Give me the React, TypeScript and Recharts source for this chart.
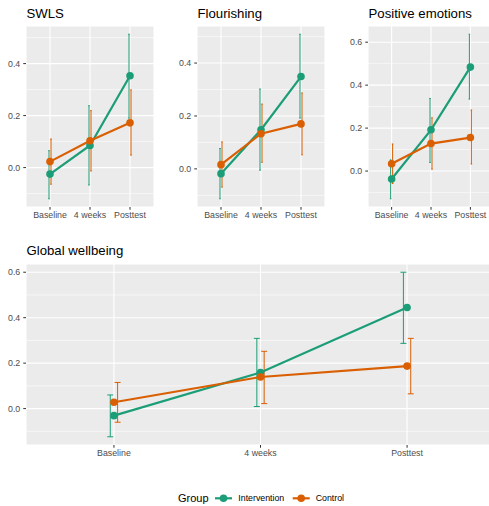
import React from "react"
import {
  ComposedChart,
  Line,
  Scatter,
  ErrorBar,
  XAxis,
  YAxis,
  CartesianGrid,
} from "recharts"

const timepoints = ["Baseline", "4 weeks", "Posttest"]

// SWLS
const swlsIntervention = [-0.025, 0.085, 0.353]
const swlsInterventionLow = [-0.12, -0.067, 0.19]
const swlsInterventionHigh = [0.065, 0.238, 0.513]
const swlsControl = [0.023, 0.103, 0.172]
const swlsControlLow = [-0.064, -0.013, 0.048]
const swlsControlHigh = [0.11, 0.219, 0.299]

// Flourishing
const flourIntervention = [-0.018, 0.148, 0.349]
const flourInterventionLow = [-0.113, -0.005, 0.192]
const flourInterventionHigh = [0.077, 0.302, 0.509]
const flourControl = [0.016, 0.133, 0.17]
const flourControlLow = [-0.069, 0.025, 0.053]
const flourControlHigh = [0.102, 0.245, 0.287]

// Positive emotions
const posIntervention = [-0.037, 0.192, 0.484]
const posInterventionLow = [-0.129, 0.04, 0.335]
const posInterventionHigh = [0.052, 0.338, 0.637]
const posControl = [0.034, 0.128, 0.156]
const posControlLow = [-0.058, 0.009, 0.033]
const posControlHigh = [0.126, 0.248, 0.284]

// Global wellbeing
const globalIntervention = [-0.031, 0.159, 0.445]
const globalInterventionLow = [-0.124, 0.009, 0.287]
const globalInterventionHigh = [0.06, 0.309, 0.6]
const globalControl = [0.028, 0.139, 0.187]
const globalControlLow = [-0.06, 0.022, 0.065]
const globalControlHigh = [0.115, 0.252, 0.309]

const ticksSmall = [0, 0.2, 0.4]
const ticksLarge = [0, 0.2, 0.4, 0.6]
const minorTicks = [-0.1, 0.1, 0.3, 0.5]

const GREEN = "#1B9E77"
const ORANGE = "#D95F02"
const FONT = "'Liberation Sans', Arial, sans-serif"
const DODGE = 0.025

type Row = { x: number; y: number; err: [number, number] }

function toRows(means: number[], low: number[], high: number[], shift = 0): Row[] {
  return means.map((y, i) => ({ x: i + 1 + shift, y, err: [y - low[i], high[i] - y] }))
}

type PanelProps = {
  title: string
  left: number
  top: number
  width: number
  height: number
  titleTop: number
  intervention: number[]
  interventionLow: number[]
  interventionHigh: number[]
  control: number[]
  controlLow: number[]
  controlHigh: number[]
  ticks: number[]
  cap: number
}

function Panel(p: PanelProps) {
  const lows = [...p.interventionLow, ...p.controlLow]
  const highs = [...p.interventionHigh, ...p.controlHigh]
  const lo = Math.min(...lows)
  const hi = Math.max(...highs)
  const pad = (hi - lo) * 0.05
  const domain = [lo - pad, hi + pad]

  const axisTick = { fill: "#4D4D4D", fontSize: 8.8, fontFamily: FONT }

  return (
    <>
      <div
        style={{
          position: "absolute",
          left: p.left + 26.5,
          top: p.titleTop,
          fontSize: 13.2,
          lineHeight: 1,
          color: "#000",
          whiteSpace: "nowrap",
        }}
      >
        {p.title}
      </div>
      <div style={{ position: "absolute", left: p.left, top: p.top }}>
        <ComposedChart
          width={p.width}
          height={p.height}
          margin={{ top: 0, right: 0, bottom: 0, left: 0 }}
        >
          <CartesianGrid
            horizontalValues={minorTicks}
            vertical={false}
            stroke="#FFFFFF"
            strokeWidth={0.55}
            fill="#EBEBEB"
            fillOpacity={1}
          />
          <CartesianGrid stroke="#FFFFFF" strokeWidth={1.1} />
          <XAxis
            dataKey="x"
            type="number"
            domain={[0.4, 3.6]}
            ticks={[1, 2, 3]}
            interval={0}
            allowDataOverflow
            tickFormatter={(v) => timepoints[Math.round(v) - 1]}
            axisLine={false}
            tickSize={2.75}
            tickMargin={2.2}
            tickLine={{ stroke: "#333333" }}
            tick={axisTick}
            height={23}
          />
          <YAxis
            type="number"
            domain={domain}
            ticks={p.ticks}
            interval={0}
            allowDataOverflow
            tickFormatter={(v) => Number(v).toFixed(1)}
            axisLine={false}
            tickSize={2.75}
            tickMargin={3}
            tickLine={{ stroke: "#333333" }}
            tick={axisTick}
            width={26}
          />
          <Scatter
            data={toRows(p.intervention, p.interventionLow, p.interventionHigh, -DODGE)}
            dataKey="y"
            shape={() => <g />}
            isAnimationActive={false}
          >
            <ErrorBar dataKey="err" direction="y" width={p.cap} stroke={GREEN} strokeWidth={1} isAnimationActive={false} />
          </Scatter>
          <Scatter
            data={toRows(p.control, p.controlLow, p.controlHigh, DODGE)}
            dataKey="y"
            shape={() => <g />}
            isAnimationActive={false}
          >
            <ErrorBar dataKey="err" direction="y" width={p.cap} stroke={ORANGE} strokeWidth={1} isAnimationActive={false} />
          </Scatter>
          <Line
            data={toRows(p.intervention, p.interventionLow, p.interventionHigh)}
            dataKey="y"
            stroke={GREEN}
            strokeWidth={2.2}
            dot={{ r: 3.8, fill: GREEN, stroke: GREEN, strokeWidth: 0 }}
            activeDot={false}
            isAnimationActive={false}
          />
          <Line
            data={toRows(p.control, p.controlLow, p.controlHigh)}
            dataKey="y"
            stroke={ORANGE}
            strokeWidth={2.2}
            dot={{ r: 3.8, fill: ORANGE, stroke: ORANGE, strokeWidth: 0 }}
            activeDot={false}
            isAnimationActive={false}
          />
        </ComposedChart>
      </div>
    </>
  )
}

export default function App() {
  return (
    <div
      style={{
        position: "absolute",
        left: 0,
        top: 0,
        width: 489,
        height: 506,
        overflow: "hidden",
        background: "#FFFFFF",
        fontFamily: FONT,
      }}
    >
      <Panel
        title="SWLS"
        left={0}
        top={26}
        width={154}
        height={204}
        titleTop={7.3}
        intervention={swlsIntervention}
        interventionLow={swlsInterventionLow}
        interventionHigh={swlsInterventionHigh}
        control={swlsControl}
        controlLow={swlsControlLow}
        controlHigh={swlsControlHigh}
        ticks={ticksSmall}
        cap={0.8}
      />
      <Panel
        title="Flourishing"
        left={171}
        top={26}
        width={154}
        height={204}
        titleTop={7.3}
        intervention={flourIntervention}
        interventionLow={flourInterventionLow}
        interventionHigh={flourInterventionHigh}
        control={flourControl}
        controlLow={flourControlLow}
        controlHigh={flourControlHigh}
        ticks={ticksSmall}
        cap={0.8}
      />
      <Panel
        title="Positive emotions"
        left={342}
        top={26}
        width={152}
        height={204}
        titleTop={7.3}
        intervention={posIntervention}
        interventionLow={posInterventionLow}
        interventionHigh={posInterventionHigh}
        control={posControl}
        controlLow={posControlLow}
        controlHigh={posControlHigh}
        ticks={ticksLarge}
        cap={0.8}
      />
      <Panel
        title="Global wellbeing"
        left={0}
        top={264}
        width={495}
        height={204}
        titleTop={244.3}
        intervention={globalIntervention}
        interventionLow={globalInterventionLow}
        interventionHigh={globalInterventionHigh}
        control={globalControl}
        controlLow={globalControlLow}
        controlHigh={globalControlHigh}
        ticks={ticksLarge}
        cap={3}
      />
      <svg
        width={489}
        height={26}
        style={{ position: "absolute", left: 0, top: 480 }}
      >
        <text x={178} y={22} fontSize={11} fill="#000" fontFamily={FONT}>
          Group
        </text>
        <line x1={215} x2={232} y1={18.3} y2={18.3} stroke={GREEN} strokeWidth={2.2} />
        <circle cx={223.5} cy={18.3} r={3.8} fill={GREEN} />
        <text x={238.3} y={21.4} fontSize={8.8} fill="#000" fontFamily={FONT}>
          Intervention
        </text>
        <line x1={292.7} x2={309.7} y1={18.3} y2={18.3} stroke={ORANGE} strokeWidth={2.2} />
        <circle cx={301.2} cy={18.3} r={3.8} fill={ORANGE} />
        <text x={315.7} y={21.4} fontSize={8.8} fill="#000" fontFamily={FONT}>
          Control
        </text>
      </svg>
    </div>
  )
}
